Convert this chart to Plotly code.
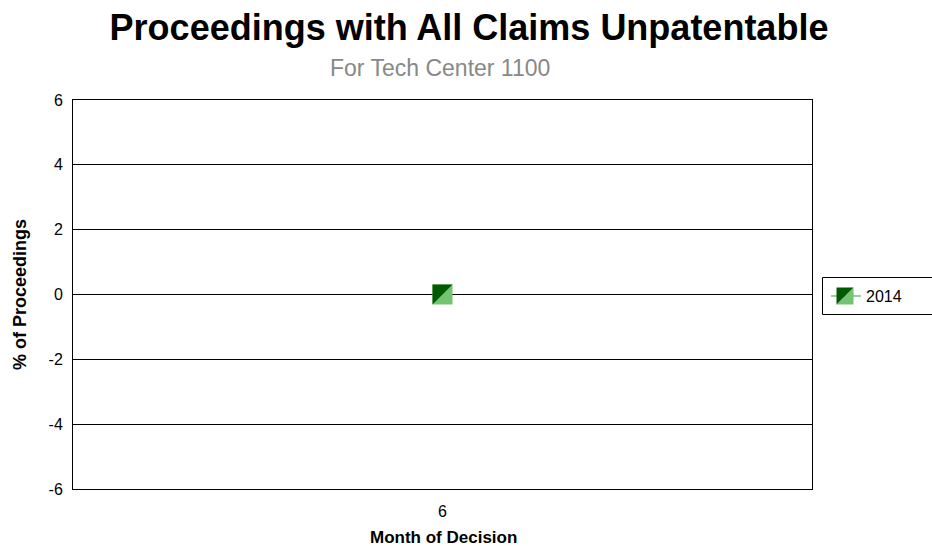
import plotly.graph_objects as go

# ---- data ----
months = [6]
pct_2014 = [0]
series_name = "2014"
y_ticks = [-6, -4, -2, 0, 2, 4, 6]
y_tick_text = ["-6", "-4", "-2", "0", "2", "4", "6"]

FONT = "Liberation Sans, Arial, sans-serif"
DARK = "#005a00"
LIGHT = "#73c373"

PL, PR, PT, PB = 73, 812, 100, 489
W, H = 932, 546

fig = go.Figure()
fig.add_trace(go.Scatter(
    x=months, y=pct_2014, mode="lines+markers", name=series_name,
    line=dict(color=LIGHT, width=1.5),
    marker=dict(symbol="square", size=20, color=LIGHT, line=dict(width=0)),
    showlegend=False, hoverinfo="x+y",
))

shapes = []
for xv, yv in zip(months, pct_2014):
    shapes.append(dict(type="path", xref="x", yref="y", xsizemode="pixel", ysizemode="pixel",
                       xanchor=xv, yanchor=yv, path="M -10 10 L 10 10 L -10 -10 Z",
                       fillcolor=DARK, line=dict(width=0), layer="above"))

def px_x(p):
    return (p - PL) / (PR - PL)
def px_y(p):
    return (PB - p) / (PB - PT)

shapes.append(dict(type="rect", xref="paper", yref="paper",
                   x0=px_x(822.5), x1=px_x(945), y0=px_y(314.5), y1=px_y(277.5),
                   line=dict(color="black", width=1), fillcolor="white", layer="above"))
shapes.append(dict(type="line", xref="paper", yref="paper",
                   x0=px_x(831), x1=px_x(861), y0=px_y(296), y1=px_y(296),
                   line=dict(color=LIGHT, width=1.5), layer="above"))
shapes.append(dict(type="path", xref="paper", yref="paper", xsizemode="pixel", ysizemode="pixel",
                   xanchor=px_x(845), yanchor=px_y(296), path="M -8.5 -8.5 L 8.5 -8.5 L 8.5 8.5 Z",
                   fillcolor=LIGHT, line=dict(width=0), layer="above"))
shapes.append(dict(type="path", xref="paper", yref="paper", xsizemode="pixel", ysizemode="pixel",
                   xanchor=px_x(845), yanchor=px_y(296), path="M -8.5 8.5 L 8.5 8.5 L -8.5 -8.5 Z",
                   fillcolor=DARK, line=dict(width=0), layer="above"))

annotations = [
    dict(text="For Tech Center 1100", xref="paper", yref="paper", x=px_x(440), y=px_y(68),
         xanchor="center", yanchor="middle", showarrow=False,
         font=dict(family=FONT, size=23, color="#888888")),
    dict(text=series_name, xref="paper", yref="paper", x=px_x(864), y=px_y(296),
         xanchor="left", yanchor="middle", showarrow=False,
         font=dict(family=FONT, size=16, color="black")),
    dict(text="<b>Month of Decision</b>", xref="paper", yref="paper", x=px_x(443), y=px_y(537),
         xanchor="center", yanchor="middle", showarrow=False,
         font=dict(family=FONT, size=17, color="black")),
    dict(text="<b>% of Proceedings</b>", xref="paper", yref="paper", x=px_x(20), y=px_y(295),
         xanchor="center", yanchor="middle", showarrow=False, textangle=-90,
         font=dict(family=FONT, size=18, color="black")),
]

fig.update_layout(
    width=W, height=H,
    margin=dict(l=PL, r=W - PR, t=PT, b=H - PB),
    paper_bgcolor="white", plot_bgcolor="white",
    font=dict(family=FONT, size=15, color="black"),
    title=dict(text="<b>Proceedings with All Claims Unpatentable</b>", x=469 / W, xref="container",
               xanchor="center", y=1 - 27 / H, yref="container", yanchor="middle",
               font=dict(family=FONT, size=36, color="black")),
    xaxis=dict(type="linear", range=[months[0] - 1, months[0] + 1], tickvals=months,
               ticktext=[str(m) for m in months], showgrid=False, zeroline=False,
               showline=True, linecolor="black", linewidth=1, mirror=True,
               ticks="outside", ticklen=8, tickcolor="rgba(0,0,0,0)", automargin=False,
               tickfont=dict(family=FONT, size=16)),
    yaxis=dict(range=[-6, 6], tickvals=y_ticks, ticktext=y_tick_text,
               showgrid=True, gridcolor="black", gridwidth=1,
               zeroline=True, zerolinecolor="black", zerolinewidth=1,
               showline=True, linecolor="black", linewidth=1, mirror=True,
               ticks="outside", ticklen=6, tickcolor="rgba(0,0,0,0)", automargin=False,
               tickfont=dict(family=FONT, size=16)),
    shapes=shapes, annotations=annotations,
)

fig.write_html("out.html", config={"displayModeBar": False},
               post_script="document.body.style.margin='0';document.body.style.overflow='hidden';")
